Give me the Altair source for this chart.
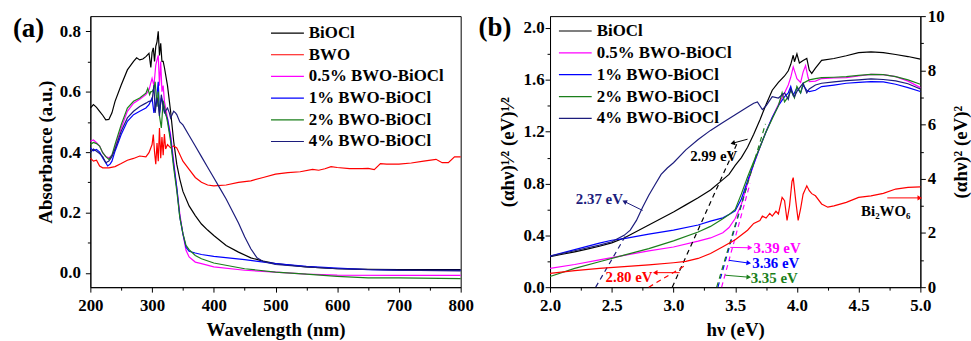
import math
import altair as alt
import pandas as pd

FONT = "Liberation Serif"

# ---------------- Panel (a): absorbance spectra ----------------
names_a = ["BiOCl", "BWO", "0.5% BWO-BiOCl", "1% BWO-BiOCl", "2% BWO-BiOCl", "4% BWO-BiOCl"]
colors_a = ["#000000", "#ff0000", "#ff00ff", "#0000ff", "#1b7f1b", "#1c1c7c"]

wl_biocl = [200, 205, 210, 215, 220, 225, 230, 235, 240, 250, 260, 270, 275, 280, 285, 290, 295, 298, 300, 302,
            304, 306, 308, 310, 312, 314, 316, 318, 320, 325, 330, 335, 340, 345, 350, 360, 370, 380, 390, 400,
            420, 440, 460, 480, 500, 550, 600, 650, 700, 750, 800]
ab_biocl = [0.546, 0.557, 0.548, 0.535, 0.522, 0.507, 0.508, 0.53, 0.568, 0.622, 0.672, 0.700, 0.712, 0.705, 0.708,
            0.716, 0.727, 0.68, 0.73, 0.745, 0.70, 0.75, 0.765, 0.80, 0.72, 0.76, 0.70, 0.70, 0.68, 0.62, 0.535,
            0.436, 0.36, 0.31, 0.27, 0.222, 0.19, 0.162, 0.142, 0.124, 0.091, 0.069, 0.05, 0.039, 0.031, 0.02,
            0.014, 0.012, 0.011, 0.011, 0.011]

wl_bwo = [200, 205, 210, 215, 220, 230, 240, 250, 260, 270, 280, 290, 295, 300, 302, 304, 306, 308, 310, 312, 314,
          316, 318, 320, 322, 325, 330, 335, 340, 350, 360, 370, 380, 390, 400, 420, 440, 460, 480, 500, 520, 540,
          560, 570, 580, 590, 600, 620, 640, 650, 660, 670, 680, 700, 720, 740, 760, 770, 780, 790, 800]
ab_bwo = [0.38, 0.37, 0.373, 0.354, 0.348, 0.348, 0.352, 0.362, 0.373, 0.379, 0.387, 0.384, 0.398, 0.425, 0.458,
          0.40, 0.36, 0.43, 0.37, 0.48, 0.38, 0.45, 0.39, 0.46, 0.41, 0.425, 0.414, 0.42, 0.414, 0.37, 0.343, 0.316,
          0.30, 0.291, 0.288, 0.291, 0.30, 0.305, 0.316, 0.327, 0.332, 0.335, 0.343, 0.34, 0.345, 0.352, 0.349,
          0.345, 0.345, 0.346, 0.342, 0.362, 0.36, 0.36, 0.364, 0.37, 0.376, 0.365, 0.365, 0.384, 0.384]

wl_05 = [200, 205, 210, 215, 220, 225, 230, 235, 240, 250, 260, 270, 280, 290, 295, 300, 303, 306, 308, 310, 312,
         314, 316, 318, 320, 325, 330, 335, 340, 345, 350, 355, 360, 370, 380, 400, 450, 500, 550, 600, 700, 800]
ab_05 = [0.436, 0.44, 0.431, 0.42, 0.398, 0.385, 0.381, 0.39, 0.414, 0.48, 0.535, 0.562, 0.575, 0.59, 0.606, 0.644,
         0.62, 0.688, 0.705, 0.72, 0.62, 0.70, 0.60, 0.62, 0.568, 0.513, 0.458, 0.37, 0.283, 0.195, 0.129, 0.075,
         0.053, 0.036, 0.031, 0.02, 0.009, 0.003, -0.004, -0.007, -0.008, -0.008]

wl_1 = [200, 205, 210, 215, 220, 225, 228, 232, 235, 240, 250, 260, 270, 280, 290, 295, 300, 303, 305, 308, 310,
        312, 315, 318, 320, 325, 330, 335, 340, 345, 350, 355, 360, 370, 380, 400, 450, 500, 550, 600, 650, 700, 800]
ab_1 = [0.414, 0.404, 0.409, 0.40, 0.381, 0.365, 0.354, 0.36, 0.37, 0.403, 0.458, 0.502, 0.524, 0.535, 0.546, 0.557,
        0.579, 0.53, 0.55, 0.59, 0.633, 0.53, 0.58, 0.56, 0.535, 0.51, 0.447, 0.36, 0.283, 0.184, 0.129, 0.085,
        0.072, 0.066, 0.061, 0.055, 0.044, 0.031, 0.022, 0.016, 0.011, 0.009, 0.009]

wl_2 = [200, 205, 210, 215, 220, 225, 230, 235, 240, 250, 260, 270, 280, 290, 293, 296, 298, 300, 303, 305, 308, 310,
        312, 315, 318, 320, 325, 330, 335, 340, 345, 350, 355, 360, 370, 380, 400, 450, 500, 550, 600, 650, 700, 800]
ab_2 = [0.425, 0.432, 0.428, 0.42, 0.398, 0.385, 0.376, 0.39, 0.425, 0.491, 0.546, 0.568, 0.579, 0.595, 0.611, 0.59,
        0.60, 0.60, 0.61, 0.633, 0.55, 0.60, 0.52, 0.48, 0.57, 0.55, 0.50, 0.436, 0.348, 0.272, 0.184, 0.13, 0.091,
        0.077, 0.058, 0.047, 0.033, 0.014, 0.003, -0.004, -0.011, -0.016, -0.016, -0.019]

wl_4 = [200, 205, 210, 215, 220, 225, 230, 235, 240, 250, 260, 270, 280, 290, 295, 300, 303, 305, 308, 310, 312, 315,
        318, 320, 325, 328, 330, 335, 338, 340, 345, 350, 360, 370, 380, 390, 400, 410, 420, 430, 440, 450, 460, 470,
        480, 500, 550, 600, 700, 800]
ab_4 = [0.398, 0.41, 0.403, 0.395, 0.385, 0.365, 0.37, 0.385, 0.41, 0.469, 0.513, 0.535, 0.551, 0.562, 0.568, 0.57,
        0.622, 0.53, 0.58, 0.56, 0.52, 0.59, 0.55, 0.53, 0.546, 0.53, 0.513, 0.535, 0.53, 0.524, 0.50, 0.49, 0.455,
        0.42, 0.385, 0.35, 0.315, 0.28, 0.245, 0.205, 0.165, 0.12, 0.08, 0.05, 0.038, 0.028, 0.02, 0.014, 0.009,
        0.007]

xs_a = [wl_biocl, wl_bwo, wl_05, wl_1, wl_2, wl_4]
ys_a = [ab_biocl, ab_bwo, ab_05, ab_1, ab_2, ab_4]

# ---------------- Panel (b): Tauc plots ----------------
names_b = ["BiOCl", "0.5% BWO-BiOCl", "1% BWO-BiOCl", "2% BWO-BiOCl", "4% BWO-BiOCl"]
colors_b = ["#000000", "#ff00ff", "#0000ff", "#1b7f1b", "#1c1c7c"]

ev_biocl = [2.0, 2.1, 2.2, 2.3, 2.4, 2.5, 2.6, 2.7, 2.8, 2.9, 3.0, 3.1, 3.2, 3.3, 3.4, 3.45, 3.5, 3.55, 3.6, 3.65,
            3.7, 3.75, 3.8, 3.85, 3.9, 3.93, 3.95, 3.97, 3.98, 4.0, 4.02, 4.05, 4.08, 4.1, 4.12, 4.15, 4.2, 4.3, 4.4,
            4.5, 4.6, 4.7, 4.8, 4.9, 5.0]
sq_biocl = [0.235, 0.254, 0.273, 0.294, 0.316, 0.342, 0.38, 0.43, 0.48, 0.53, 0.58, 0.635, 0.69, 0.75, 0.83, 0.87,
            0.94, 1.0, 1.08, 1.18, 1.29, 1.41, 1.52, 1.58, 1.63, 1.67, 1.72, 1.79, 1.74, 1.80, 1.73, 1.75, 1.765,
            1.676, 1.65, 1.69, 1.75, 1.765, 1.786, 1.81, 1.816, 1.81, 1.796, 1.78, 1.76]

ev_05 = [2.0, 2.2, 2.4, 2.6, 2.8, 3.0, 3.2, 3.3, 3.4, 3.45, 3.5, 3.55, 3.6, 3.65, 3.7, 3.75, 3.8, 3.85, 3.9, 3.93,
         3.95, 3.97, 3.99, 4.0, 4.03, 4.05, 4.07, 4.09, 4.1, 4.15, 4.2, 4.3, 4.4, 4.5, 4.6, 4.7, 4.8, 4.9, 5.0]
sq_05 = [0.145, 0.175, 0.21, 0.245, 0.28, 0.31, 0.355, 0.38, 0.42, 0.46, 0.53, 0.64, 0.80, 0.95, 1.08, 1.2, 1.31,
         1.41, 1.5, 1.56, 1.62, 1.70, 1.64, 1.61, 1.58, 1.66, 1.71, 1.62, 1.587, 1.59, 1.61, 1.615, 1.617, 1.63,
         1.643, 1.64, 1.625, 1.59, 1.54]

ev_1 = [2.0, 2.2, 2.4, 2.5, 2.6, 2.8, 3.0, 3.2, 3.3, 3.4, 3.45, 3.5, 3.55, 3.6, 3.65, 3.7, 3.75, 3.8, 3.85, 3.9,
        3.93, 3.95, 3.97, 4.0, 4.03, 4.05, 4.08, 4.1, 4.15, 4.2, 4.3, 4.4, 4.5, 4.6, 4.7, 4.8, 4.9, 5.0]
sq_1 = [0.24, 0.29, 0.34, 0.362, 0.375, 0.41, 0.44, 0.48, 0.51, 0.535, 0.56, 0.59, 0.68, 0.82, 0.95, 1.08, 1.2,
        1.31, 1.40, 1.47, 1.50, 1.55, 1.48, 1.54, 1.50, 1.56, 1.52, 1.51, 1.52, 1.548, 1.56, 1.574, 1.58, 1.587,
        1.584, 1.566, 1.54, 1.51]

ev_2 = [2.0, 2.2, 2.4, 2.6, 2.8, 3.0, 3.2, 3.3, 3.4, 3.45, 3.5, 3.55, 3.6, 3.65, 3.7, 3.75, 3.8, 3.85, 3.88, 3.9,
        3.93, 3.95, 3.98, 4.0, 4.03, 4.05, 4.1, 4.15, 4.2, 4.3, 4.4, 4.5, 4.6, 4.7, 4.8, 4.9, 5.0]
sq_2 = [0.082, 0.145, 0.196, 0.247, 0.298, 0.357, 0.426, 0.469, 0.528, 0.56, 0.60, 0.72, 0.85, 0.97, 1.08, 1.2,
        1.30, 1.40, 1.50, 1.43, 1.47, 1.52, 1.46, 1.55, 1.50, 1.574, 1.60, 1.61, 1.617, 1.62, 1.625, 1.635, 1.643,
        1.64, 1.625, 1.60, 1.566]

ev_4 = [2.0, 2.2, 2.4, 2.5, 2.6, 2.65, 2.7, 2.75, 2.8, 2.85, 2.9, 2.95, 3.0, 3.1, 3.2, 3.3, 3.4, 3.5, 3.6, 3.65,
        3.68, 3.7, 3.72, 3.75, 3.8, 3.85, 3.9, 3.93, 3.95, 3.98, 4.0, 4.03, 4.05, 4.08, 4.1, 4.15, 4.2, 4.3, 4.4,
        4.5, 4.6, 4.7, 4.8, 4.9, 5.0]
sq_4 = [0.24, 0.281, 0.324, 0.35, 0.40, 0.44, 0.515, 0.617, 0.71, 0.79, 0.87, 0.92, 0.96, 1.06, 1.14, 1.21, 1.27,
        1.33, 1.39, 1.42, 1.43, 1.40, 1.37, 1.40, 1.47, 1.46, 1.50, 1.45, 1.53, 1.47, 1.51, 1.55, 1.574, 1.50,
        1.53, 1.56, 1.574, 1.585, 1.594, 1.60, 1.607, 1.603, 1.592, 1.57, 1.53]

xs_b = [ev_biocl, ev_05, ev_1, ev_2, ev_4]
ys_b = [sq_biocl, sq_05, sq_1, sq_2, sq_4]

# Bi2WO6, (alpha h nu)^2 on right axis
ev_bwo = [2.0, 2.2, 2.4, 2.6, 2.8, 3.0, 3.1, 3.2, 3.3, 3.4, 3.5, 3.6, 3.65, 3.7, 3.72, 3.75, 3.78, 3.8, 3.83, 3.85,
          3.88, 3.9, 3.92, 3.94, 3.96, 3.97, 3.99, 4.01, 4.03, 4.05, 4.08, 4.1, 4.12, 4.15, 4.2, 4.25, 4.3, 4.4,
          4.5, 4.6, 4.7, 4.8, 4.9, 5.0]
dq_bwo = [0.51, 0.61, 0.69, 0.755, 0.82, 0.90, 0.95, 1.06, 1.24, 1.49, 1.75, 2.1, 2.35, 2.46, 2.62, 2.55, 2.72,
          2.62, 2.80, 2.70, 3.31, 3.19, 2.46, 3.0, 3.9, 4.04, 3.2, 2.46, 2.9, 3.43, 3.74, 3.56, 3.45, 3.37, 3.07,
          2.95, 3.0, 3.13, 3.31, 3.37, 3.46, 3.62, 3.68, 3.70]

# tangent (extrapolation) lines, left-axis units
tan_color = ["#1c1c7c", "#000000", "#ff0000", "#ff00ff", "#0000ff", "#1b7f1b"]
tan_x1 = [2.37, 2.99, 2.80, 3.39, 3.36, 3.35]
tan_y1 = [0.0, 0.0, 0.0, 0.0, 0.0, 0.0]
tan_x2 = [2.62, 3.52, 3.10, 3.62, 3.60, 3.745]
tan_y2 = [0.41, 1.12, 0.17, 0.80, 0.80, 1.26]

# band-gap labels
lab_text = ["2.99 eV", "2.37 eV", "2.80 eV", "3.39 eV", "3.36 eV", "3.35 eV", "Bi\u2082WO\u2086"]
lab_x = [3.326, 2.40, 2.64, 3.649, 3.638, 3.625, 4.72]
lab_y = [1.011, 0.68, 0.082, 0.30, 0.184, 0.069, 0.587]
lab_color = ["#000000", "#1c1c7c", "#ff0000", "#ff00ff", "#0000ff", "#1b7f1b", "#000000"]
lab_align = ["center", "center", "center", "left", "left", "left", "center"]

# arrows (tail -> head)
arr_color = ["#000000", "#1c1c7c", "#ff0000", "#ff00ff", "#0000ff", "#1b7f1b", "#ff0000"]
arr_x1 = [3.60, 2.75, 3.05, 3.46, 3.45, 3.42, 4.732]
arr_y1 = [1.142, 0.592, 0.112, 0.307, 0.207, 0.092, 0.689]
arr_x2 = [3.48, 2.603, 2.852, 3.62, 3.61, 3.61, 4.995]
arr_y2 = [1.111, 0.661, 0.112, 0.304, 0.186, 0.077, 0.689]

# ---------------- geometry / styles ----------------
W, H = 373, 273
XA = [200, 800]
YA = [-0.047, 0.85]
XB = [2.0, 5.0]
YB = [0.0, 2.092]
YR = [0.0, 10.0]
LW = 1.2


def cond_tick(test):
    return {"condition": {"test": test, "value": 5}, "value": 3}


ax_xa = alt.Axis(title="Wavelength (nm)", values=list(range(200, 801, 50)),
                 labelExpr="datum.value % 100 === 0 ? datum.label : ''",
                 tickSize=cond_tick("datum.value % 100 === 0"), labelPadding=6, titlePadding=7)
ax_ya = alt.Axis(title="Absorbance (a.u.)", values=[round(0.1 * i, 1) for i in range(0, 9)],
                 labelExpr="round(datum.value*10) % 2 === 0 ? format(datum.value, '.1f') : ''",
                 tickSize=cond_tick("round(datum.value*10) % 2 === 0"), labelPadding=5, titlePadding=4)
ax_xb = alt.Axis(title="h\u03bd (eV)", values=[2.0 + 0.25 * i for i in range(13)],
                 labelExpr="round(datum.value*4) % 2 === 0 ? format(datum.value, '.1f') : ''",
                 tickSize=cond_tick("round(datum.value*4) % 2 === 0"), labelPadding=6, titlePadding=7)
ax_yb = alt.Axis(title="(\u03b1h\u03bd)\u00b9\u2044\u00b2 (eV)\u00b9\u2044\u00b2",
                 values=[round(0.2 * i, 1) for i in range(11)],
                 labelExpr="round(datum.value*5) % 2 === 0 ? format(datum.value, '.1f') : ''",
                 tickSize=cond_tick("round(datum.value*5) % 2 === 0"), labelPadding=1, titlePadding=6)
ax_yr = alt.Axis(title="(\u03b1h\u03bd)\u00b2 (eV)\u00b2", orient="right", values=list(range(0, 11)),
                 labelExpr="datum.value % 2 === 0 ? datum.label : ''",
                 tickSize=cond_tick("datum.value % 2 === 0"), labelPadding=2, titlePadding=7,
                 titleAngle=270, titleBaseline="top")


def xa(field="x"):
    return alt.X(f"{field}:Q", scale=alt.Scale(domain=XA, nice=False, zero=False), axis=ax_xa)


def ya(field="y"):
    return alt.Y(f"{field}:Q", scale=alt.Scale(domain=YA, nice=False, zero=False), axis=ax_ya)


def xb(field="x"):
    return alt.X(f"{field}:Q", scale=alt.Scale(domain=XB, nice=False, zero=False), axis=ax_xb)


def yb(field="y"):
    return alt.Y(f"{field}:Q", scale=alt.Scale(domain=YB, nice=False, zero=False), axis=ax_yb)


# ---------------- panel (a) ----------------
rows = []
for n, c, xs, ys in zip(names_a, colors_a, xs_a, ys_a):
    for x, y in zip(xs, ys):
        rows.append({"series": n, "col": c, "x": x, "y": y})
df_a = pd.DataFrame(rows)

lines_a = alt.Chart(df_a).mark_line(strokeWidth=LW).encode(
    x=xa(), y=ya(), color=alt.Color("col:N", scale=None), detail="series:N")

# legend of panel (a), placed in data units at the upper right
leg_a = pd.DataFrame({
    "series": names_a, "col": colors_a,
    "x": [492.7] * 6, "x2": [546.0] * 6, "xt": [554.0] * 6,
    "y": [0.794 - 0.0718 * i for i in range(6)],
})
leg_a_lines = alt.Chart(leg_a).mark_rule(strokeWidth=LW).encode(
    x=xa(), x2="x2:Q", y=ya(), color=alt.Color("col:N", scale=None))
leg_a_text = alt.Chart(leg_a).mark_text(font=FONT, fontWeight="bold", fontSize=17, align="left",
                                        baseline="middle", color="black").encode(
    x=xa("xt"), y=ya(), text="series:N")
tag_a = alt.Chart(pd.DataFrame({"t": ["(a)"]})).mark_text(
    font=FONT, fontWeight="bold", fontSize=27, align="left", baseline="middle", color="black").encode(
    text="t:N", x=alt.value(-78), y=alt.value(13))

panel_a = alt.layer(lines_a, leg_a_lines, leg_a_text, tag_a).properties(width=W, height=H)

# ---------------- panel (b) ----------------
rows = []
for n, c, xs, ys in zip(names_b, colors_b, xs_b, ys_b):
    for x, y in zip(xs, ys):
        rows.append({"series": n, "col": c, "x": x, "y": y})
df_b = pd.DataFrame(rows)
lines_b = alt.Chart(df_b).mark_line(strokeWidth=LW).encode(
    x=xb(), y=yb(), color=alt.Color("col:N", scale=None), detail="series:N")

df_tan = pd.DataFrame({"col": tan_color, "x": tan_x1, "y": tan_y1, "x2": tan_x2, "y2": tan_y2})
tan_b = alt.Chart(df_tan).mark_rule(strokeWidth=LW, strokeDash=[5, 4]).encode(
    x=xb(), y=yb(), x2="x2:Q", y2="y2:Q", color=alt.Color("col:N", scale=None))

px_per_x = W / (XB[1] - XB[0])
px_per_y = H / (YB[1] - YB[0])
angles = []
for x1, y1, x2, y2 in zip(arr_x1, arr_y1, arr_x2, arr_y2):
    dx = (x2 - x1) * px_per_x
    dy = -(y2 - y1) * px_per_y
    angles.append(math.degrees(math.atan2(dx, -dy)) % 360)
df_arr = pd.DataFrame({"col": arr_color, "x": arr_x1, "y": arr_y1, "x2": arr_x2, "y2": arr_y2,
                       "hx": arr_x2, "hy": arr_y2, "ang": angles})
arr_shaft = alt.Chart(df_arr).mark_rule(strokeWidth=1).encode(
    x=xb(), y=yb(), x2="x2:Q", y2="y2:Q", color=alt.Color("col:N", scale=None))
arr_head = alt.Chart(df_arr).mark_point(shape="triangle-up", filled=True, size=28, opacity=1).encode(
    x=xb("hx"), y=yb("hy"), angle=alt.Angle("ang:Q", scale=None), color=alt.Color("col:N", scale=None))

df_lab = pd.DataFrame({"t": lab_text, "x": lab_x, "y": lab_y, "col": lab_color, "al": lab_align})
labs = []
for al in ["center", "left"]:
    labs.append(alt.Chart(df_lab[df_lab["al"] == al]).mark_text(
        font=FONT, fontWeight="bold", fontSize=15, align=al, baseline="middle").encode(
        x=xb(), y=yb(), text="t:N", color=alt.Color("col:N", scale=None)))

leg_b = pd.DataFrame({
    "series": names_b, "col": colors_b,
    "x": [2.072] * 5, "x2": [2.3375] * 5, "xt": [2.378] * 5,
    "y": [1.977 - 0.1686 * i for i in range(5)],
})
leg_b_lines = alt.Chart(leg_b).mark_rule(strokeWidth=LW).encode(
    x=xb(), x2="x2:Q", y=yb(), color=alt.Color("col:N", scale=None))
leg_b_text = alt.Chart(leg_b).mark_text(font=FONT, fontWeight="bold", fontSize=17, align="left",
                                        baseline="middle", color="black").encode(
    x=xb("xt"), y=yb(), text="series:N")
tag_b = alt.Chart(pd.DataFrame({"t": ["(b)"]})).mark_text(
    font=FONT, fontWeight="bold", fontSize=27, align="left", baseline="middle", color="black").encode(
    text="t:N", x=alt.value(-72), y=alt.value(12))

left_b = alt.layer(lines_b, tan_b, arr_shaft, arr_head, *labs, leg_b_lines, leg_b_text, tag_b)

df_bwo = pd.DataFrame({"x": ev_bwo, "y": dq_bwo})
right_b = alt.Chart(df_bwo).mark_line(strokeWidth=LW, color="#ff0000").encode(
    x=xb(), y=alt.Y("y:Q", scale=alt.Scale(domain=YR, nice=False, zero=False), axis=ax_yr))

panel_b = alt.layer(left_b, right_b).resolve_scale(y="independent").properties(width=W, height=H)

chart = alt.hconcat(panel_a, panel_b, spacing=90, bounds="flush").properties(
    padding={"left": 12, "top": 5, "right": 0, "bottom": 0}
).configure_axis(
    labelFont=FONT, labelFontSize=17, labelFontWeight="bold", labelColor="black",
    titleFont=FONT, titleFontSize=19, titleFontWeight="bold", titleColor="black",
    domainColor="black", domainWidth=1, tickColor="black", tickWidth=1, grid=False,
    labelFlush=False,
).configure_view(stroke="black", strokeWidth=1)

chart.save("out.html", embed_options={"renderer": "svg", "actions": False})
